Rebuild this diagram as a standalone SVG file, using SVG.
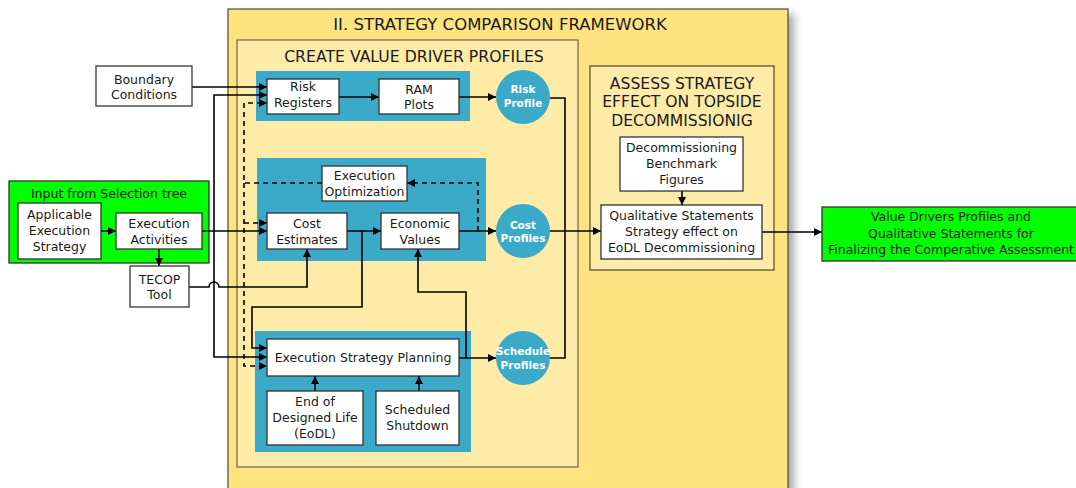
<svg xmlns="http://www.w3.org/2000/svg" width="1076" height="488" viewBox="0 0 1076 488">
  <defs>
    <marker id="arrow" markerUnits="userSpaceOnUse" markerWidth="9" markerHeight="9" refX="8" refY="4.5" orient="auto">
      <path d="M0,0.5 L8,4.5 L0,8.5 Z" fill="#000"/>
    </marker>
    <filter id="shadow" x="-10%" y="-10%" width="120%" height="120%">
      <feGaussianBlur stdDeviation="4"/>
    </filter>
    <style>
      text { font-family: "DejaVu Sans", Verdana, sans-serif; fill: #1a1a1a; text-anchor: middle; }
      .node { font-size: 12.5px; }
      .box { fill: #fff; stroke: #333; stroke-width: 1.3; }
      .panel { fill: #3aaac8; }
      .circ { fill: #3aaac8; }
      .ctext { font-size: 10.5px; font-weight: bold; fill: #fff; }
      .green { fill: #00ff00; stroke: #333; stroke-width: 1.3; }
      .line { fill: none; stroke: #000; stroke-width: 1.6; }
      .arr { marker-end: url(#arrow); }
      .dash { stroke-dasharray: 5 4; }
    </style>
  </defs>

  <!-- framework container -->
  <g id="framework">
    <rect x="233" y="14" width="561" height="480" fill="#000" opacity="0.35" filter="url(#shadow)"/>
    <rect x="228" y="9" width="560" height="485" fill="#ffe381" stroke="#4e4830" stroke-width="1.2"/>
    <text x="500" y="30" style="font-size:16.5px">II. STRATEGY COMPARISON FRAMEWORK</text>
  </g>

  <g id="create-profiles">
    <rect x="237" y="40" width="341" height="427" fill="#ffeba8" stroke="#6b6550" stroke-width="1.2"/>
    <text x="414" y="62" style="font-size:15.7px">CREATE VALUE DRIVER PROFILES</text>
  </g>

  <g id="assess-effect">
    <rect x="590" y="66" width="184" height="204" fill="#ffeba8" stroke="#4e4830" stroke-width="1.2"/>
    <text x="682" y="88.5" style="font-size:15.6px">ASSESS STRATEGY</text>
    <text x="682" y="107" style="font-size:15.6px">EFFECT ON TOPSIDE</text>
    <text x="682" y="125.5" style="font-size:15.6px">DECOMMISSIONIG</text>
  </g>

  <!-- blue panels -->
  <g id="risk-panel"><rect class="panel" x="256" y="71" width="214" height="50"/></g>
  <g id="cost-panel"><rect class="panel" x="257" y="158" width="229" height="103"/></g>
  <g id="schedule-panel"><rect class="panel" x="255" y="331" width="216" height="121"/></g>

  <!-- input group -->
  <g id="input-selection">
    <rect class="green" x="9" y="181" width="200" height="82"/>
    <text class="node" x="109" y="198">Input from Selection tree</text>
  </g>

  <!-- connectors -->
  <g id="connectors">
    <path class="line arr" d="M192,87 H267"/>
    <path class="line arr" d="M101,231 H116"/>
    <path class="line arr" d="M159,249 V266"/>
    <path class="line arr" d="M202,231 H267"/>
    <path class="line arr" d="M214,231 V95 H267"/>
    <path class="line arr" d="M214,231 V357 H267"/>
    <path class="line arr" d="M189,287 H209 A5,5 0 0 1 219,287 H307 V249"/>
    <path class="line dash arr" d="M322,183 H244 V103 H267"/>
    <path class="line dash arr" d="M244,183 V366 H267"/>
    <path class="line dash arr" d="M244,223 H267"/>
    <path class="line dash arr" d="M478,231 V183 H407"/>
    <path class="line arr" d="M339,97 H379"/>
    <path class="line arr" d="M459,97 H496"/>
    <path class="line arr" d="M347,231 H381"/>
    <path class="line arr" d="M362,231 V307 H252 V348 H267"/>
    <path class="line arr" d="M459,231 H496"/>
    <path class="line arr" d="M459,358 H496"/>
    <path class="line arr" d="M466,358 V292 H418 V249"/>
    <path class="line arr" d="M315,391 V376"/>
    <path class="line arr" d="M419,391 V376"/>
    <path class="line" d="M550,98 H565 V358 H550"/>
    <path class="line arr" d="M550,231 H601"/>
    <path class="line arr" d="M682,191 V205"/>
    <path class="line arr" d="M762,232 H822"/>
  </g>

  <!-- nodes -->
  <g id="boundary-conditions">
    <rect class="box" x="96" y="66" width="96" height="40"/>
    <text class="node" x="144" y="83.5">Boundary</text>
    <text class="node" x="144" y="99">Conditions</text>
  </g>
  <g id="applicable-strategy">
    <rect class="box" x="18" y="203" width="83" height="56"/>
    <text class="node" x="59.5" y="219">Applicable</text>
    <text class="node" x="59.5" y="235">Execution</text>
    <text class="node" x="59.5" y="251">Strategy</text>
  </g>
  <g id="execution-activities">
    <rect class="box" x="116" y="213" width="86" height="36"/>
    <text class="node" x="159" y="228">Execution</text>
    <text class="node" x="159" y="243.5">Activities</text>
  </g>
  <g id="tecop-tool">
    <rect class="box" x="130" y="266" width="59" height="41"/>
    <text class="node" x="159.5" y="283.5">TECOP</text>
    <text class="node" x="159.5" y="299">Tool</text>
  </g>
  <g id="risk-registers">
    <rect class="box" x="267" y="79" width="72" height="35"/>
    <text class="node" x="303" y="91">Risk</text>
    <text class="node" x="303" y="107">Registers</text>
  </g>
  <g id="ram-plots">
    <rect class="box" x="379" y="79" width="80" height="35"/>
    <text class="node" x="419" y="93.5">RAM</text>
    <text class="node" x="419" y="109">Plots</text>
  </g>
  <g id="execution-optimization">
    <rect class="box" x="322" y="166" width="85" height="35"/>
    <text class="node" x="364.5" y="180">Execution</text>
    <text class="node" x="364.5" y="196">Optimization</text>
  </g>
  <g id="cost-estimates">
    <rect class="box" x="267" y="213" width="80" height="36"/>
    <text class="node" x="307" y="228">Cost</text>
    <text class="node" x="307" y="243.5">Estimates</text>
  </g>
  <g id="economic-values">
    <rect class="box" x="381" y="213" width="78" height="36"/>
    <text class="node" x="420" y="228">Economic</text>
    <text class="node" x="420" y="243.5">Values</text>
  </g>
  <g id="execution-strategy-planning">
    <rect class="box" x="267" y="339" width="192" height="37"/>
    <text class="node" x="363" y="361.5">Execution Strategy Planning</text>
  </g>
  <g id="eodl">
    <rect class="box" x="267" y="391" width="96" height="54"/>
    <text class="node" x="315" y="405.5">End of</text>
    <text class="node" x="315" y="421.5">Designed Life</text>
    <text class="node" x="315" y="438">(EoDL)</text>
  </g>
  <g id="scheduled-shutdown">
    <rect class="box" x="376" y="391" width="83" height="54"/>
    <text class="node" x="417.5" y="413.5">Scheduled</text>
    <text class="node" x="417.5" y="429.5">Shutdown</text>
  </g>
  <g id="risk-profile">
    <circle class="circ" cx="523" cy="97" r="27"/>
    <text class="ctext" x="523" y="93">Risk</text>
    <text class="ctext" x="523" y="107">Profile</text>
  </g>
  <g id="cost-profiles">
    <circle class="circ" cx="523" cy="231" r="27"/>
    <text class="ctext" x="523" y="228.5">Cost</text>
    <text class="ctext" x="523" y="242">Profiles</text>
  </g>
  <g id="schedule-profiles">
    <circle class="circ" cx="523" cy="358" r="27"/>
    <text class="ctext" x="523" y="355">Schedule</text>
    <text class="ctext" x="523" y="369">Profiles</text>
  </g>
  <g id="benchmark-figures">
    <rect class="box" x="620" y="137" width="123" height="54"/>
    <text class="node" x="681.5" y="152">Decommissioning</text>
    <text class="node" x="681.5" y="168">Benchmark</text>
    <text class="node" x="681.5" y="184">Figures</text>
  </g>
  <g id="qualitative-statements">
    <rect class="box" x="601" y="205" width="161" height="54"/>
    <text class="node" x="681.5" y="220">Qualitative Statements</text>
    <text class="node" x="681.5" y="236">Strategy effect on</text>
    <text class="node" x="681.5" y="252">EoDL Decommissioning</text>
  </g>
  <g id="value-drivers-output">
    <rect class="green" x="822" y="207" width="260" height="54"/>
    <text class="node" x="951" y="221">Value Drivers Profiles and</text>
    <text class="node" x="951" y="237.5">Qualitative Statements for</text>
    <text class="node" x="951" y="253.5">Finalizing the Comperative Assessment</text>
  </g>
</svg>
